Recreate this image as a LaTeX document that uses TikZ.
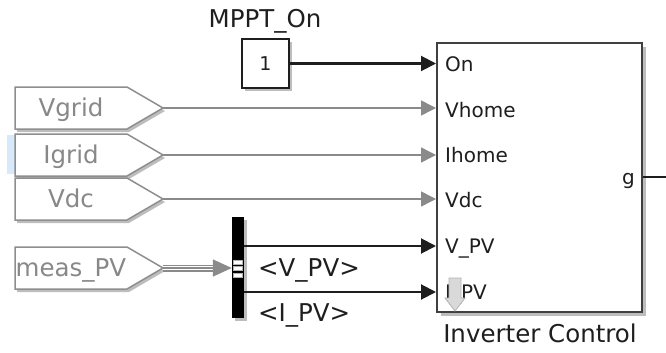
\documentclass[tikz,border=0pt]{standalone}
\usepackage{fontspec}
\setmainfont{DejaVu Sans}
\usetikzlibrary{arrows.meta}
\definecolor{tagline}{HTML}{8E8E8E}
\definecolor{tagtext}{HTML}{888888}
\definecolor{shadowc}{HTML}{BDBDBD}
\definecolor{selc}{HTML}{D6EAFB}
\definecolor{sigc}{HTML}{8A8A8A}
\definecolor{ink}{HTML}{1E1E1E}
\definecolor{boxline}{HTML}{404040}
\newcommand\mytag[3]{%
  \fill[shadowc] (17,#2-18) -- (129,#2-18) -- (165,#2+3) -- (129,#2+24) -- (17,#2+24) -- cycle;
  \filldraw[fill=white,draw=tagline,line width=1.5pt] (15,#2-21) -- (127,#2-21) -- (163,#2) -- (127,#2+21) -- (15,#2+21) -- cycle;
  \node[tagtxt] (#1) at (71,#2) {#3};
  \coordinate (#1-tip) at (163,#2);
}
\begin{document}
\begin{tikzpicture}[x=1pt,y=-1pt,
  tagtxt/.style={inner sep=0pt,text=tagtext,font=\fontsize{24.5}{28}\selectfont,text height=17.8pt,text depth=0pt},
  porttxt/.style={inner sep=0pt,text=ink,font=\fontsize{20}{24}\selectfont,text height=14.6pt,text depth=0pt},
  bigtxt/.style={inner sep=0pt,text=ink,font=\fontsize{24.5}{28}\selectfont,text height=17.8pt,text depth=0pt},
  blackarrow/.style={draw=ink,line width=2pt,-{Triangle[length=15pt,width=15pt]}},
  grayarrow/.style={draw=sigc,line width=1.5pt,-{Triangle[length=15pt,width=15pt]}},
]
\useasboundingbox (0,0) rectangle (666,353);
% selection highlight
\fill[selc] (7,135) rectangle (15,174);
% tags
\mytag{vgrid}{108}{Vgrid}
\mytag{igrid}{155}{Igrid}
\mytag{vdc}{199}{Vdc}
\mytag{meas}{268}{meas\_PV}
% constant block
\fill[shadowc] (245,42) rectangle (292,91);
\node[draw=ink,fill=white,line width=1.5pt,minimum width=47pt,minimum height=49pt,inner sep=0pt,
  font=\fontsize{19}{22}\selectfont,text=ink] (c1) at (265.5,63.5) {1};
\node[bigtxt] (mppt) at (265,18.5) {MPPT\_On};
% inverter control block
\fill[shadowc] (441,47) rectangle (646,316);
\node[draw=boxline,fill=white,line width=2pt,minimum width=205pt,minimum height=269pt,inner sep=0pt] (ctrl) at (539.5,177.5) {};
\node[bigtxt] (ctrlname) at (540,334) {Inverter Control};
% port labels
\node[porttxt,anchor=west] (pOn) at (445,64) {On};
\node[porttxt,anchor=west] (pVh) at (445,110) {Vhome};
\node[porttxt,anchor=west] (pIh) at (445,155) {Ihome};
\node[porttxt,anchor=west] (pVdc) at (445,200) {Vdc};
\node[porttxt,anchor=west] (pVpv) at (445,246) {V\_PV};
\node[porttxt,anchor=west] (pIpv) at (445,292) {I\_PV};
\node[porttxt,anchor=east] (pg) at (635,177) {g};
% logging icon over I_PV
\filldraw[fill=gray!30,draw=gray!60,line width=0.8pt]
  (449,278) -- (461,278) -- (461,298) -- (465,298) -- (455,311) -- (445,298) -- (449,298) -- cycle;
% bus selector
\fill[shadowc] (235,220) rectangle (247,321);
\node[fill=black,minimum width=12pt,minimum height=101pt,inner sep=0pt] (bus) at (238,267.5) {};
\foreach \yy in {260,266.5,273}
  \filldraw[fill=white,draw=gray!60,line width=0.6pt] (233.5,\yy) rectangle (242.5,\yy+4);
% connectors
\draw[blackarrow] (c1.east) -- (ctrl.west |- c1.east);
\draw[grayarrow] (vgrid-tip) -- (ctrl.west |- vgrid-tip);
\draw[grayarrow] (igrid-tip) -- (ctrl.west |- igrid-tip);
\draw[grayarrow] (vdc-tip) -- (ctrl.west |- vdc-tip);
\draw[sigc,line width=7pt] (meas-tip) -- (216,268);
\draw[white,line width=4pt] (meas-tip) -- (216,268);
\draw[sigc,line width=1.5pt,-{Triangle[length=19pt,width=17pt]}] (meas-tip) -- (bus.west |- meas-tip);
\draw[blackarrow] (bus.east |- pVpv) -- (ctrl.west |- pVpv);
\draw[blackarrow] (bus.east |- pIpv) -- (ctrl.west |- pIpv);
\draw[draw=ink,line width=1.5pt] (ctrl.east |- pg) -- ++(30,0) coordinate (gout);
% signal labels
\node[bigtxt,anchor=west] (lv) at (258,268) {<V\_PV>};
\node[bigtxt,anchor=west] (li) at (258,313) {<I\_PV>};
\end{tikzpicture}
\end{document}
